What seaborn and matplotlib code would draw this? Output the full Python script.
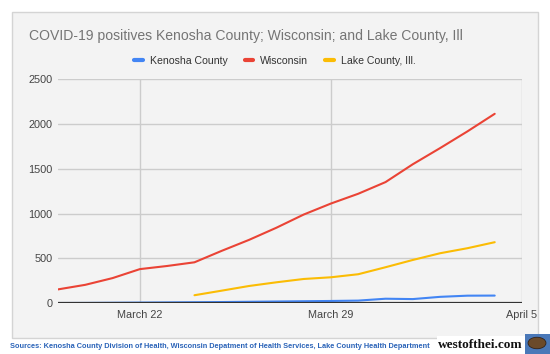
import numpy as np
import pandas as pd
import matplotlib
matplotlib.use("Agg")
import matplotlib.pyplot as plt
from matplotlib.patches import Rectangle, Circle
import seaborn as sns

# values, one point per day
dates = pd.date_range("2020-03-19", "2020-04-04", freq="D")
kenosha = [3, 4, 6, 8, 10, 12, 14, 17, 20, 23, 26, 30, 51, 47, 72, 85, 86]
wisconsin = [155, 206, 281, 381, 416, 457, 585, 707, 842, 989, 1112, 1221, 1351, 1550, 1730, 1916, 2112]
lake_dates = pd.date_range("2020-03-24", "2020-04-04", freq="D")
lake = [90, 141, 193, 234, 271, 290, 324, 402, 483, 558, 614, 681]

series = ["Kenosha County", "Wisconsin", "Lake County, Ill."]
colors = ["#4285F4", "#EA4335", "#FBBC04"]

df = pd.concat([
    pd.DataFrame({"date": dates, "cases": kenosha, "series": series[0]}),
    pd.DataFrame({"date": dates, "cases": wisconsin, "series": series[1]}),
    pd.DataFrame({"date": lake_dates, "cases": lake, "series": series[2]}),
])

sns.set_theme(style="white")
plt.rcParams["font.family"] = ["Liberation Sans", "DejaVu Sans"]

fig = plt.figure(figsize=(5.5, 3.54), dpi=100)
fig.patch.set_facecolor("white")
bg = "#f3f3f3"

# chart card, behind everything
fig.patches.append(Rectangle((12 / 550, 1 - 338 / 354), 526 / 550, 326 / 354,
                             transform=fig.transFigure, facecolor=bg,
                             edgecolor="#d4d4d4", linewidth=1, zorder=-10))

ax = fig.add_axes([58 / 550, 1 - 303.3 / 354, 464 / 550, 224.3 / 354])
ax.set_facecolor(bg)

sns.lineplot(data=df, x="date", y="cases", hue="series", hue_order=series,
             palette=colors, linewidth=1.5, ax=ax, legend=False, zorder=3)

ax.set_xlim(pd.Timestamp("2020-03-19"), pd.Timestamp("2020-04-05"))
ax.set_ylim(0, 2500)
ax.set_yticks(np.arange(0, 2501, 500))
xt = pd.to_datetime(["2020-03-22", "2020-03-29", "2020-04-05"])
ax.set_xticks(xt)
ax.set_xticklabels(["March 22", "March 29", "April 5"])
ax.grid(True, color="#cccccc", linewidth=1)
ax.axhline(0, color="#333333", linewidth=1.6, zorder=4)
for s in ax.spines.values():
    s.set_visible(False)
ax.tick_params(length=0, labelsize=7.8, colors="#444444", pad=4)
ax.tick_params(axis="x", pad=5)
ax.set_xlabel("")
ax.set_ylabel("")

fig.text(29 / 550, 1 - 36 / 354, "COVID-19 positives Kenosha County; Wisconsin; and Lake County, Ill",
         fontsize=10.1, color="#757575", va="center", ha="left")

handles = [plt.Line2D([], [], color=c, linewidth=3) for c in colors]
fig.legend(handles, series, loc="center", bbox_to_anchor=(0.5, 1 - 61 / 354),
           ncol=3, frameon=False, fontsize=7.6, handlelength=0.8,
           columnspacing=1.6, handletextpad=0.7, labelcolor="#333333")

fig.text(10 / 550, 1 - 347 / 354,
         "Sources: Kenosha County Division of Health, Wisconsin Depatment of Health Services, Lake County Health Department",
         fontsize=5.35, fontweight="bold", color="#2a63b8", va="center", ha="left")

# site badge
fig.patches.append(Rectangle((437 / 550, 0), 88 / 550, 18 / 354, transform=fig.transFigure,
                             facecolor="white", edgecolor="none", zorder=1))
fig.text(480 / 550, 1 - 345 / 354, "westofthei.com", fontsize=9.5, fontweight="bold",
         family="Liberation Serif", color="#111111", ha="center", va="center", zorder=2)
fig.patches.append(Rectangle((525 / 550, 0), 25 / 550, 20 / 354, transform=fig.transFigure,
                             facecolor="#4a78b8", edgecolor="none", zorder=1))
fig.patches.append(Circle((537 / 550, 1 - 343 / 354), 9 / 550, transform=fig.transFigure,
                          facecolor="#6b4a2a", edgecolor="#2a1a10", linewidth=0.5, zorder=2))

fig.savefig("out.png", dpi=100, facecolor="white")
